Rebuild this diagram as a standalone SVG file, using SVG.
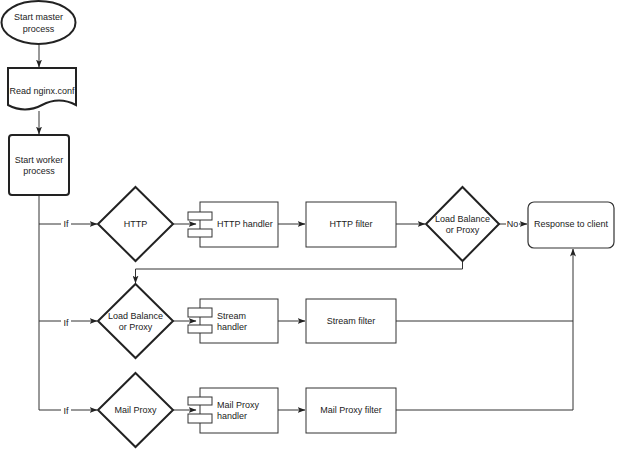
<svg xmlns="http://www.w3.org/2000/svg" width="620" height="450" viewBox="0 0 620 450">
<defs>
<style>
text{font-family:"Liberation Sans",Arial,sans-serif;font-size:9px;fill:#222;text-anchor:middle;dominant-baseline:central}
.thick{fill:#fff;stroke:#222;stroke-width:2}
.thin{fill:#fff;stroke:#333;stroke-width:1}
.edge{fill:none;stroke:#333;stroke-width:1}
.lbl{fill:#fff;stroke:none}
</style>
<marker id="arr" markerWidth="8" markerHeight="6" refX="7.5" refY="3" orient="auto" markerUnits="userSpaceOnUse">
<path d="M0,0 L8,3 L0,6 L2,3 Z" fill="#222"/>
</marker>
</defs>
<rect width="620" height="450" fill="#fff"/>
<g id="connectors">
<path class="edge" d="M39,45 V67" marker-end="url(#arr)"/>
<path class="edge" d="M39,111 V134" marker-end="url(#arr)"/>
<path class="edge" d="M39,195 V410"/>
<path class="edge" d="M39,224 H97" marker-end="url(#arr)"/>
<path class="edge" d="M39,321 H97" marker-end="url(#arr)"/>
<path class="edge" d="M39,410 H97" marker-end="url(#arr)"/>
<path class="edge" d="M173,224 H196" marker-end="url(#arr)"/>
<path class="edge" d="M278,224 H305" marker-end="url(#arr)"/>
<path class="edge" d="M396,224 H425" marker-end="url(#arr)"/>
<path class="edge" d="M499,224 H527" marker-end="url(#arr)"/>
<path class="edge" d="M462.5,261 V269 H135.5 V283" marker-end="url(#arr)"/>
<path class="edge" d="M173,321 H196" marker-end="url(#arr)"/>
<path class="edge" d="M278,321 H305" marker-end="url(#arr)"/>
<path class="edge" d="M396,321 H573"/>
<path class="edge" d="M173,410 H196" marker-end="url(#arr)"/>
<path class="edge" d="M278,410 H305" marker-end="url(#arr)"/>
<path class="edge" d="M396,410 H573 V249" marker-end="url(#arr)"/>
<rect class="lbl" x="61" y="218" width="10" height="12"/>
<text x="66" y="224">If</text>
<rect class="lbl" x="61" y="315" width="10" height="12"/>
<text x="66" y="323">If</text>
<rect class="lbl" x="61" y="404" width="10" height="12"/>
<text x="66" y="411">If</text>
<rect class="lbl" x="506" y="218" width="13" height="12"/>
<text x="512.5" y="224">No</text>
</g>
<g id="start-master">
<ellipse class="thick" cx="38.5" cy="22.5" rx="37" ry="21.5"/>
<text x="38.5" y="17">Start master</text>
<text x="38.5" y="29">process</text>
</g>
<g id="read-conf">
<path class="thick" d="M8,68 H76 V105 Q59,96 42,105 Q25,114 8,105 Z"/>
<text x="42" y="91">Read nginx.conf</text>
</g>
<g id="start-worker">
<rect class="thick" x="9" y="135" width="60" height="60" rx="3"/>
<text x="39" y="160">Start worker</text>
<text x="39" y="171">process</text>
</g>
<g id="http">
<path class="thick" d="M135.5,187 L173,224 L135.5,261 L98,224 Z"/>
<text x="135.5" y="224">HTTP</text>
</g>
<g id="http-handler">
<rect class="thin" x="200" y="202" width="78" height="45"/>
<rect class="thin" x="188" y="212" width="24" height="8"/>
<rect class="thin" x="188" y="229" width="24" height="8"/>
<text x="217" y="224" style="text-anchor:start">HTTP handler</text>
</g>
<g id="http-filter">
<rect class="thin" x="306" y="202" width="90" height="45"/>
<text x="351" y="224">HTTP filter</text>
</g>
<g id="lb1">
<path class="thick" d="M462.5,187 L499,224 L462.5,261 L426,224 Z"/>
<text x="462.5" y="219">Load Balance</text>
<text x="462.5" y="230">or Proxy</text>
</g>
<g id="response">
<rect class="thin" x="528" y="202" width="86" height="46" rx="6" style="stroke-width:1.2"/>
<text x="571" y="224">Response to client</text>
</g>
<g id="lb2">
<path class="thick" d="M135.5,284 L173,321 L135.5,358 L98,321 Z"/>
<text x="135.5" y="316">Load Balance</text>
<text x="135.5" y="327">or Proxy</text>
</g>
<g id="stream-handler">
<rect class="thin" x="200" y="299" width="78" height="44"/>
<rect class="thin" x="188" y="308" width="24" height="9"/>
<rect class="thin" x="188" y="325" width="24" height="8"/>
<text x="217" y="316" style="text-anchor:start">Stream</text>
<text x="217" y="327" style="text-anchor:start">handler</text>
</g>
<g id="stream-filter">
<rect class="thin" x="306" y="299" width="90" height="44"/>
<text x="351" y="321">Stream filter</text>
</g>
<g id="mail">
<path class="thick" d="M135.5,373 L173,410 L135.5,447 L98,410 Z"/>
<text x="135.5" y="410">Mail Proxy</text>
</g>
<g id="mail-handler">
<rect class="thin" x="200" y="388" width="78" height="45"/>
<rect class="thin" x="188" y="397" width="24" height="8"/>
<rect class="thin" x="188" y="414" width="24" height="9"/>
<text x="217" y="405" style="text-anchor:start">Mail Proxy</text>
<text x="217" y="416" style="text-anchor:start">handler</text>
</g>
<g id="mail-filter">
<rect class="thin" x="306" y="388" width="90" height="45"/>
<text x="351" y="410">Mail Proxy filter</text>
</g>
</svg>
